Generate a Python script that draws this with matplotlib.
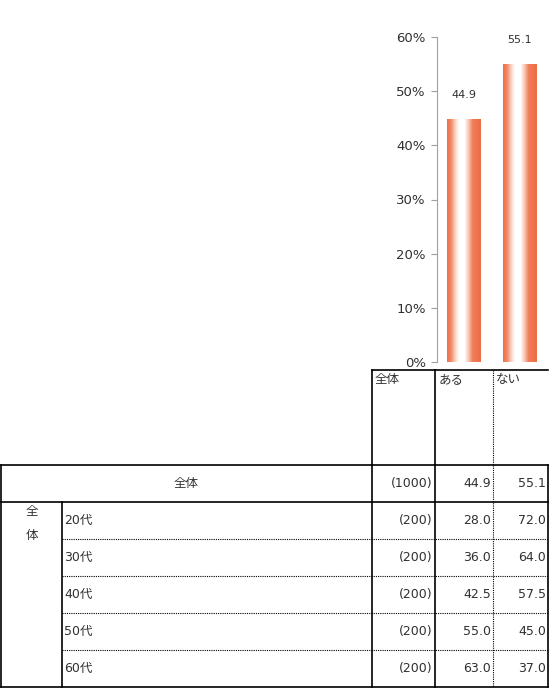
import numpy as np
import matplotlib
matplotlib.use("Agg")
import matplotlib.pyplot as plt
from matplotlib.colors import LinearSegmentedColormap

plt.rcParams['font.family'] = ['DejaVu Sans', 'Noto Sans CJK JP']

# データ
answers = ["ある", "ない"]
total_values = [44.9, 55.1]
total_n = 1000
groups = ["20代", "30代", "40代", "50代", "60代"]
group_n = [200, 200, 200, 200, 200]
aru = [28.0, 36.0, 42.5, 55.0, 63.0]
nai = [72.0, 64.0, 57.5, 45.0, 37.0]
yticks = [0, 10, 20, 30, 40, 50, 60]

W, H = 549, 689
fig = plt.figure(figsize=(W / 100, H / 100), dpi=100)
txt_color = "#303030"

# 棒グラフ
ax_x0, ax_x1, ax_ytop, ax_ybot = 437, 548, 37, 362
ax = fig.add_axes([ax_x0 / W, (H - ax_ybot) / H, (ax_x1 - ax_x0) / W, (ax_ybot - ax_ytop) / H])
bars = ax.bar(range(len(answers)), total_values, width=0.6, color="none", edgecolor="none")

# グラデーション（端がオレンジ、中央が白）
cmap = LinearSegmentedColormap.from_list(
    "grad", [(0.0, "#ef6d45"), (0.12, "#f38a6a"), (0.25, "#fcd6c8"), (0.35, "#ffffff"),
             (0.52, "#ffffff"), (0.64, "#fac2ae"), (0.76, "#f17d59"), (1.0, "#ee6c44")])
grad = np.linspace(0, 1, 256).reshape(1, -1)
for b in bars:
    x0, w, h = b.get_x(), b.get_width(), b.get_height()
    im = ax.imshow(grad, cmap=cmap, aspect="auto", extent=[x0, x0 + w, 0, h],
                   interpolation="bilinear", zorder=2)
    im.set_clip_path(b)
ax.set_xlim(-0.482, 1.5)
ax.set_ylim(0, 60)

for i, v in enumerate(total_values):
    ax.text(i, v + 4.4, f"{v:.1f}", ha="center", va="center", fontsize=8, color=txt_color)

ax.set_yticks(yticks)
ax.set_yticklabels([f"{t}%" for t in yticks], fontsize=9.5, color=txt_color)
ax.set_xticks([])
for s in ["top", "right", "bottom"]:
    ax.spines[s].set_visible(False)
ax.spines["left"].set_color("#a0a0a0")
ax.tick_params(axis="y", length=4, color="#a0a0a0", pad=4)
ax.patch.set_alpha(0)

# 表
tb = fig.add_axes([0, 0, 1, 1])
tb.set_xlim(0, W)
tb.set_ylim(H, 0)
tb.axis("off")
tb.patch.set_alpha(0)

fs = 9
c_left, c_grp, c_n, c_a, c_b, c_right = 1, 62, 372, 435, 493, 548
hdr_top, hdr_bot = 370, 465
row_h = 37
solid = dict(color="black", lw=1.2)
dotted = dict(color="black", lw=0.8, ls=(0, (1, 1)))

# ヘッダー
tb.plot([c_n, c_right], [hdr_top, hdr_top], **solid)
tb.plot([c_n, c_n], [hdr_top, hdr_bot], **solid)
tb.plot([c_a, c_a], [hdr_top, hdr_bot], **solid)
tb.plot([c_b, c_b], [hdr_top, hdr_bot], **dotted)
tb.text(c_n + 3, hdr_top + 3, "全体", ha="left", va="top", fontsize=fs, color=txt_color)
tb.text(c_a + 4, hdr_top + 3, answers[0], ha="left", va="top", fontsize=fs, color=txt_color)
tb.text(c_b + 3, hdr_top + 3, answers[1], ha="left", va="top", fontsize=fs, color=txt_color)

# 本体
n_rows = 1 + len(groups)
bottom = hdr_bot + n_rows * row_h
tb.plot([c_left, c_right], [hdr_bot, hdr_bot], **solid)
tb.plot([c_left, c_right], [hdr_bot + row_h, hdr_bot + row_h], **solid)
tb.plot([c_left, c_right], [bottom, bottom], **solid)
tb.plot([c_left, c_left], [hdr_bot, bottom], **solid)
tb.plot([c_right, c_right], [hdr_bot, bottom], **solid)
tb.plot([c_grp, c_grp], [hdr_bot + row_h, bottom], **solid)
tb.plot([c_n, c_n], [hdr_bot, bottom], **solid)
tb.plot([c_a, c_a], [hdr_bot, bottom], **solid)
tb.plot([c_b, c_b], [hdr_bot, bottom], **dotted)
for k in range(2, n_rows):
    yy = hdr_bot + k * row_h
    tb.plot([c_grp, c_right], [yy, yy], **dotted)

def row_values(y, n, a, b):
    tb.text(c_a - 2, y, f"({n})", ha="right", va="center", fontsize=fs, color=txt_color)
    tb.text(c_b - 2, y, f"{a:.1f}", ha="right", va="center", fontsize=fs, color=txt_color)
    tb.text(c_right - 2, y, f"{b:.1f}", ha="right", va="center", fontsize=fs, color=txt_color)

y0 = hdr_bot + row_h / 2
tb.text((c_left + c_n) / 2, y0, "全体", ha="center", va="center", fontsize=fs, color=txt_color)
row_values(y0, total_n, total_values[0], total_values[1])

tb.text((c_left + c_grp) / 2, hdr_bot + row_h + 9, "全", ha="center", va="center", fontsize=fs, color=txt_color)
tb.text((c_left + c_grp) / 2, hdr_bot + row_h + 33, "体", ha="center", va="center", fontsize=fs, color=txt_color)
for i, g in enumerate(groups):
    yc = hdr_bot + (i + 1) * row_h + row_h / 2
    tb.text(c_grp + 2, yc, g, ha="left", va="center", fontsize=fs, color=txt_color)
    row_values(yc, group_n[i], aru[i], nai[i])

fig.savefig("out.png", dpi=100)
